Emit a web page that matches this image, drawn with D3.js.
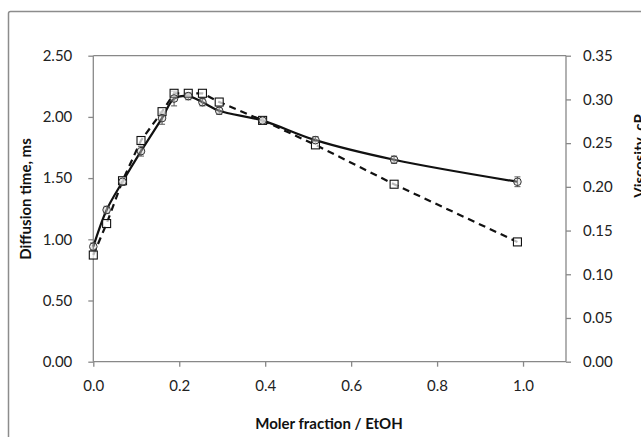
<!DOCTYPE html>
<html>
<head>
<meta charset="utf-8">
<script src="https://cdn.jsdelivr.net/npm/d3@7"></script>
<style>
  body { margin: 0; background: #fff; }
  svg { display: block; }
  .tick text { font-family: Lato, "Open Sans", sans-serif; font-size: 15px; fill: #222; }
  .axis path, .axis line { stroke: #888; stroke-width: 1.3; }
</style>
</head>
<body>
<div id="chart"></div>
<script>
// Data
var fraction  = [0, 0.031, 0.068, 0.111, 0.16, 0.188, 0.221, 0.254, 0.293, 0.394, 0.517, 0.70, 0.987];
var diffusion = [0.94, 1.24, 1.47, 1.72, 1.99, 2.15, 2.17, 2.12, 2.05, 1.97, 1.81, 1.65, 1.47];
var diffErr   = [0.03, 0.03, 0.03, 0.04, 0.05, 0.06, 0.03, 0.03, 0.03, 0.02, 0.03, 0.03, 0.04];
var viscosity = [0.122, 0.158, 0.207, 0.253, 0.286, 0.307, 0.307, 0.307, 0.297, 0.276, 0.248, 0.203, 0.137];
var xTicks  = [0, 0.2, 0.4, 0.6, 0.8, 1.0];
var yTicks  = [0, 0.5, 1.0, 1.5, 2.0, 2.5];
var y2Ticks = [0, 0.05, 0.10, 0.15, 0.20, 0.25, 0.30, 0.35];

var width = 641, height = 437;

var svg = d3.select("#chart")
  .append("svg")
  .attr("width", width)
  .attr("height", height);

// Outer chart frame (runs past the window on right and bottom)
svg.append("rect")
  .attr("x", 8.5).attr("y", 11.5)
  .attr("width", 720).attr("height", 520)
  .attr("rx", 2)
  .attr("fill", "none")
  .attr("stroke", "#8c8c8c")
  .attr("stroke-width", 1.5);

// Title, mostly above the window as in the original crop
svg.append("text")
  .attr("x", 40).attr("y", -3)
  .attr("font-family", "Lato, sans-serif")
  .attr("font-weight", "bold")
  .attr("font-size", 15)
  .attr("fill", "#111")
  .text("Diffusion time and viscosity, (EtOH)");

var x = d3.scaleLinear().domain([0, 1.1]).range([93.3, 566]);
var y = d3.scaleLinear().domain([0, 2.5]).range([361.7, 55.7]);
var y2 = d3.scaleLinear().domain([0, 0.35]).range([361.7, 55.7]);

// Plot area top edge
svg.append("line")
  .attr("x1", x(0)).attr("x2", x(1.1))
  .attr("y1", y(2.5)).attr("y2", y(2.5))
  .attr("stroke", "#888").attr("stroke-width", 1.3);

svg.append("g")
  .attr("class", "axis")
  .attr("transform", "translate(0," + y(0) + ")")
  .call(d3.axisBottom(x).tickValues(xTicks).tickSize(5).tickPadding(14).tickFormat(d3.format(".1f")))
  .call(function(g) { g.selectAll(".domain").attr("d", "M" + x(0) + ",0H" + x(1.1)); });

svg.append("g")
  .attr("class", "axis")
  .attr("transform", "translate(" + x(0) + ",0)")
  .call(d3.axisLeft(y).tickValues(yTicks).tickSize(5).tickPadding(16).tickFormat(d3.format(".2f")))
  .call(function(g) { g.selectAll(".domain").attr("d", "M0," + y(2.5) + "V" + y(0)); });

svg.append("g")
  .attr("class", "axis")
  .attr("transform", "translate(" + x(1.1) + ",0)")
  .call(d3.axisRight(y2).tickValues(y2Ticks).tickSize(5).tickPadding(12).tickFormat(d3.format(".2f")))
  .call(function(g) { g.selectAll(".domain").attr("d", "M0," + y2(0.35) + "V" + y2(0)); });

// Axis titles
svg.append("text")
  .attr("x", 329).attr("y", 429)
  .attr("text-anchor", "middle")
  .attr("font-family", "Lato, sans-serif")
  .attr("font-weight", "bold")
  .attr("font-size", 15)
  .attr("fill", "#111")
  .text("Moler fraction / EtOH");

svg.append("text")
  .attr("transform", "translate(31,199) rotate(-90)")
  .attr("text-anchor", "middle")
  .attr("font-family", "Lato, sans-serif")
  .attr("font-weight", "bold")
  .attr("font-size", 15)
  .attr("fill", "#111")
  .text("Diffusion time, ms");

svg.append("text")
  .attr("transform", "translate(645,156) rotate(-90)")
  .attr("text-anchor", "middle")
  .attr("font-family", "Lato, sans-serif")
  .attr("font-weight", "bold")
  .attr("font-size", 15)
  .attr("fill", "#111")
  .text("Viscosity, cP");

var pts = fraction.map(function(f, i) {
  return { f: f, d: diffusion[i], e: diffErr[i], v: viscosity[i] };
});

// Viscosity, dashed
svg.append("path")
  .datum(pts)
  .attr("fill", "none")
  .attr("stroke", "#111")
  .attr("stroke-width", 2.2)
  .attr("stroke-dasharray", "7,5")
  .attr("d", d3.line().x(function(d) { return x(d.f); }).y(function(d) { return y2(d.v); }));

// Diffusion time, smoothed solid
svg.append("path")
  .datum(pts)
  .attr("fill", "none")
  .attr("stroke", "#111")
  .attr("stroke-width", 2.2)
  .attr("d", d3.line().curve(d3.curveCatmullRom.alpha(0.5))
    .x(function(d) { return x(d.f); }).y(function(d) { return y(d.d); }));

// Error bars
var eb = svg.append("g").attr("stroke", "#555").attr("stroke-width", 1);
eb.selectAll(".bar").data(pts).enter().append("line")
  .attr("x1", function(d) { return x(d.f); }).attr("x2", function(d) { return x(d.f); })
  .attr("y1", function(d) { return y(d.d - d.e); }).attr("y2", function(d) { return y(d.d + d.e); });
eb.selectAll(".capt").data(pts).enter().append("line")
  .attr("x1", function(d) { return x(d.f) - 3; }).attr("x2", function(d) { return x(d.f) + 3; })
  .attr("y1", function(d) { return y(d.d + d.e); }).attr("y2", function(d) { return y(d.d + d.e); });
eb.selectAll(".capb").data(pts).enter().append("line")
  .attr("x1", function(d) { return x(d.f) - 3; }).attr("x2", function(d) { return x(d.f) + 3; })
  .attr("y1", function(d) { return y(d.d - d.e); }).attr("y2", function(d) { return y(d.d - d.e); });

// Square markers (viscosity)
svg.selectAll(".sq").data(pts).enter().append("rect")
  .attr("x", function(d) { return x(d.f) - 4; })
  .attr("y", function(d) { return y2(d.v) - 4; })
  .attr("width", 8).attr("height", 8)
  .attr("fill", "rgba(255,255,255,0.7)")
  .attr("stroke", "#111")
  .attr("stroke-width", 1.1);

// Circle markers (diffusion)
svg.selectAll(".dot").data(pts).enter().append("circle")
  .attr("cx", function(d) { return x(d.f); })
  .attr("cy", function(d) { return y(d.d); })
  .attr("r", 3.8)
  .attr("fill", "rgba(200,200,200,0.4)")
  .attr("stroke", "#333")
  .attr("stroke-width", 1);
</script>
</body>
</html>
